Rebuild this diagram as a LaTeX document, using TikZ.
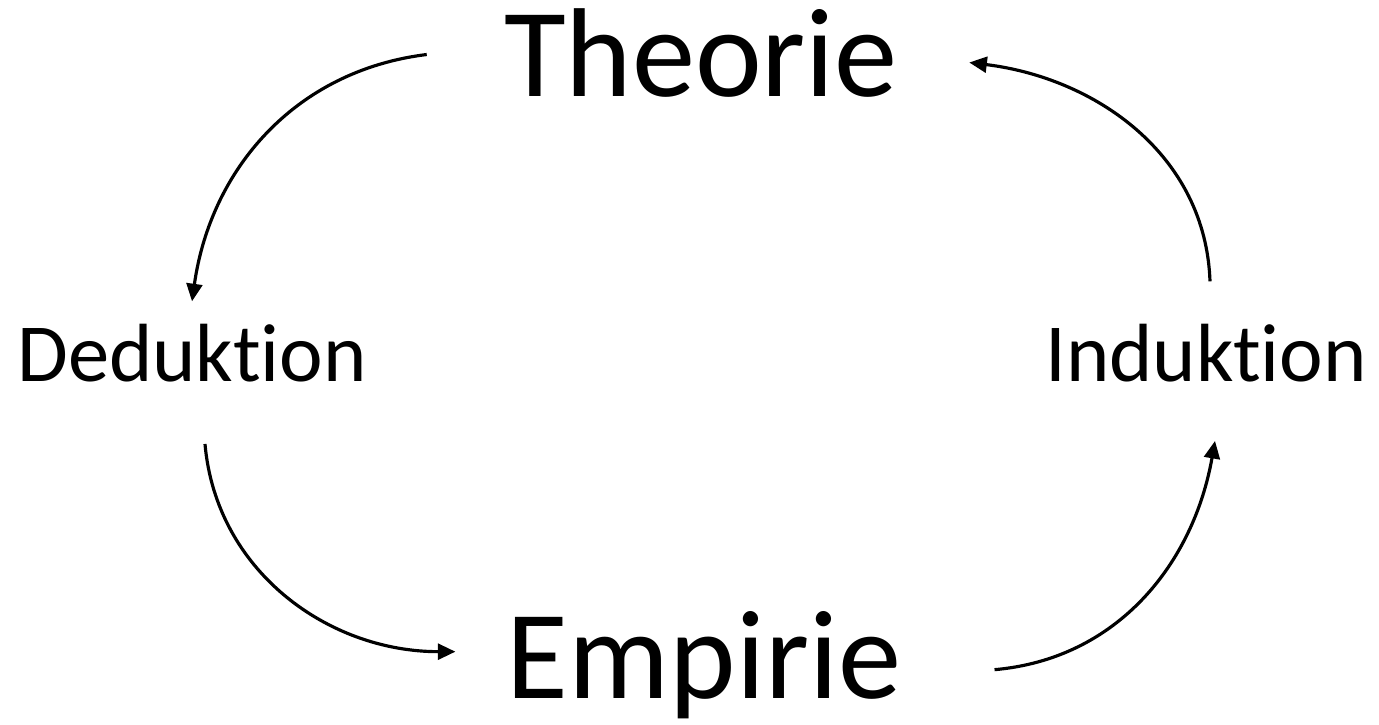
\documentclass[tikz,border=0pt]{standalone}
\usepackage{fontspec}
\setmainfont{Carlito}[Ligatures=NoCommon]
\usepackage{tikz}
\usetikzlibrary{arrows.meta, positioning, calc}

\begin{document}
\begin{tikzpicture}[x=0.02cm, y=0.02cm,
    bigword/.style={inner sep=0pt, anchor=base, font=\fontsize{72}{86}\selectfont},
    smallword/.style={inner sep=0pt, anchor=base, font=\fontsize{47}{56}\selectfont},
    cycarrow/.style={line width=1.8pt, -{Triangle[length=10pt, width=9pt]}}]
  % Frame
  \useasboundingbox (0,0) rectangle (1379,724);

  % Words
  \node[bigword] (theo) at (701,627) {Theorie};
  \node[bigword] (emp) at (704,26) {Empirie};
  \node[smallword] (ded) at (192,342) {Deduktion};
  \node[smallword] (ind) at (1206,342) {Induktion};

  % Arrows
  \draw[cycarrow] ($(theo.west)+(-77,-1)$) to[out=187, in=82] ($(ded.north)+(0,23)$);
  \draw[cycarrow] ($(ded.south)+(13,-61)$) to[out=-85, in=180] ($(emp.west)+(-51,13)$);
  \draw[cycarrow] ($(emp.east)+(93,-5)$) to[out=5, in=-100] ($(ind.south)+(9,-58)$);
  \draw[cycarrow] ($(ind.north)+(4,43)$) to[out=92, in=-7] ($(theo.east)+(71,-9)$);
\end{tikzpicture}
\end{document}
